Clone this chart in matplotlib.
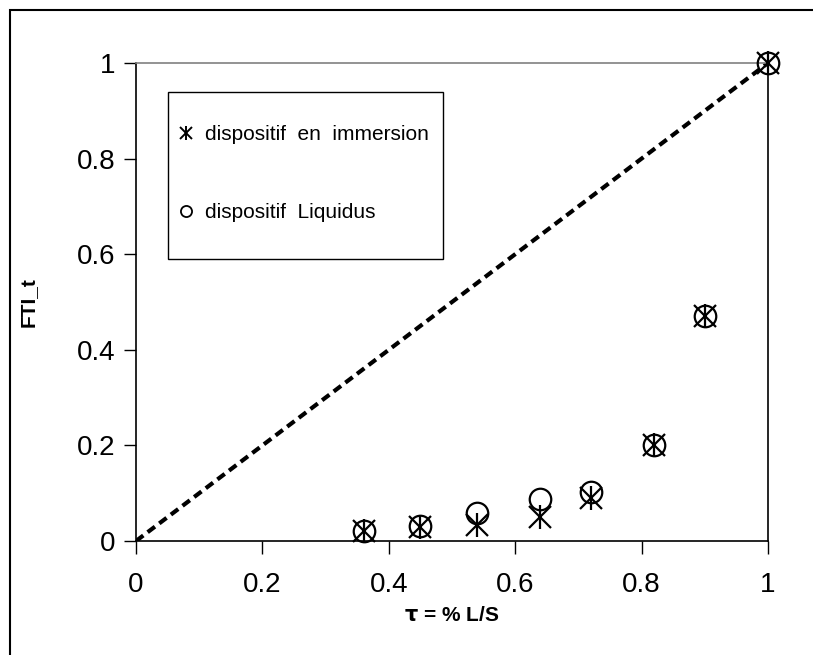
import numpy as np
import matplotlib.pyplot as plt
from matplotlib.legend_handler import HandlerTuple
from matplotlib.patches import Rectangle

plt.rcParams['font.family'] = ['Liberation Sans', 'DejaVu Sans']

# taux liquide/solide
tau = [0.36, 0.45, 0.54, 0.64, 0.72, 0.82, 0.90, 1.0]
# FTI_t mesure avec chaque dispositif
fti_immersion = [0.02, 0.03, 0.033, 0.05, 0.09, 0.2, 0.47, 1.0]
fti_liquidus = [0.02, 0.032, 0.058, 0.088, 0.102, 0.2, 0.47, 1.0]

fig = plt.figure(figsize=(8.13, 6.55), dpi=100)
ax = fig.add_axes([136/813, 114/655, 632/813, 478/655])

# diagonale y = x
ax.plot([0, 1], [0, 1], color='black', lw=3, ls=(0, (2.2, 1.3)), zorder=2)

# asterisque Excel = croix + barre verticale
ax.plot(tau, fti_immersion, ls='none', marker='x', ms=16, mew=1.6,
        color='black', zorder=3, clip_on=False)
ax.plot(tau, fti_immersion, ls='none', marker='|', ms=17, mew=1.6,
        color='black', zorder=3, clip_on=False)
ax.plot(tau, fti_liquidus, ls='none', marker='o', ms=15.5, mew=1.6,
        mfc='none', mec='black', zorder=3, clip_on=False)

ax.set_xlim(0, 1)
ax.set_ylim(0, 1)
ax.set_xticks(np.arange(0, 1.01, 0.2))
ax.set_yticks(np.arange(0, 1.01, 0.2))
ax.set_xticklabels(['0', '0.2', '0.4', '0.6', '0.8', '1'])
ax.set_yticklabels(['0', '0.2', '0.4', '0.6', '0.8', '1'])
ax.tick_params(direction='out', length=9, width=1, labelsize=20)
ax.tick_params(axis='y', pad=6)
ax.tick_params(axis='x', pad=13)

for side in ['left', 'bottom', 'right']:
    ax.spines[side].set_color('black')
    ax.spines[side].set_linewidth(1.2)
ax.spines['top'].set_color('#808080')
ax.spines['top'].set_linewidth(1.2)

ax.set_xlabel(r'$\mathbf{\tau}$ = % L/S', fontsize=15, fontweight='bold', labelpad=6)
ax.set_ylabel('FTI_t', fontsize=15, fontweight='bold', labelpad=28)

# cadre de la legende
ax.add_patch(Rectangle((32/632, 282/478), 275/632, 167/478, transform=ax.transAxes,
                       fill=False, edgecolor='black', lw=1.0, zorder=4))

s1l = plt.Line2D([], [], ls='none', marker='x', ms=9, mew=1.4, color='black')
s2l = plt.Line2D([], [], ls='none', marker='|', ms=10, mew=1.4, color='black')
c1l = plt.Line2D([], [], ls='none', marker='o', ms=8, mew=1.3, mfc='none', mec='black')
leg = ax.legend([(s1l, s2l), c1l], ['dispositif  en  immersion', 'dispositif  Liquidus'],
                handler_map={tuple: HandlerTuple(ndivide=1, pad=0)},
                loc='upper left', bbox_to_anchor=(42/632, 416/478),
                fontsize=15, frameon=False, handlelength=0.8, handletextpad=0.5,
                labelspacing=2.85, borderpad=0, borderaxespad=0)

# cadre du graphique
fig.patches.append(Rectangle((10/813, -0.05), 1.1, 1 - 10/655 + 0.05,
                             transform=fig.transFigure, fill=False,
                             edgecolor='black', lw=1.5))

fig.savefig('out.png', dpi=100)
